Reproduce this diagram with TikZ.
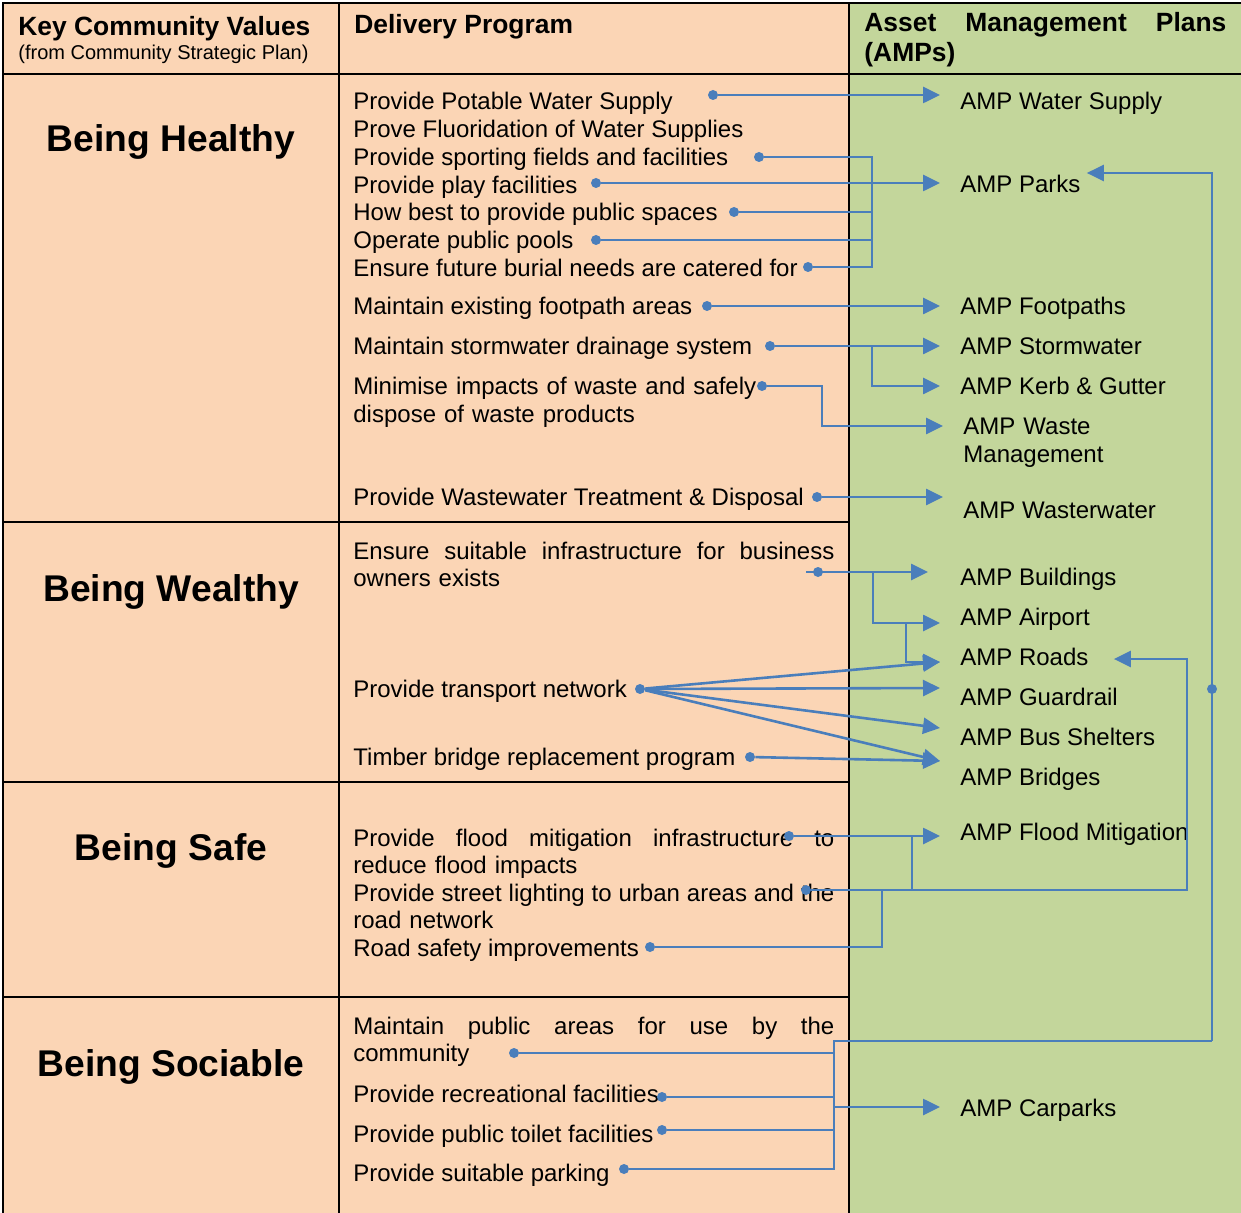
\documentclass[tikz,border=0pt]{standalone}
\usepackage{fontspec}
\setmainfont{Liberation Sans}
\usetikzlibrary{arrows.meta}

\definecolor{planpeach}{RGB}{251,213,181}
\definecolor{plangreen}{RGB}{195,214,155}
\definecolor{linkblue}{RGB}{74,126,187}

\newcommand{\dpfont}{\fontsize{12}{13.85}\selectfont}

\tikzset{
  tblline/.style={line width=1.3pt, black},
  hdr/.style={anchor=base west, inner sep=0pt, font=\bfseries\fontsize{13.2}{15}\selectfont},
  cvalue/.style={anchor=base, inner sep=0pt, font=\bfseries\fontsize{18.6}{22}\selectfont},
  dpitem/.style={anchor=base west, inner sep=0pt, font=\dpfont},
  dpwrap/.style={dpitem, text width=240.5pt, align=left},
  amp/.style={anchor=base west, inner xsep=10pt, inner ysep=0pt, text height=9.6pt, text depth=0.6pt, font=\dpfont},
  ampwrap/.style={anchor=base west, inner xsep=10pt, inner ysep=0pt, text width=110pt, align=left, font=\dpfont},
  srcdot/.style={circle, fill=linkblue, inner sep=0pt, minimum size=5pt},
  link/.style={draw=linkblue, line width=1.3pt},
  feed/.style={link, -{Triangle[length=8.5pt, width=8pt]}},
}

\begin{document}
\begin{tikzpicture}[x=0.5pt, y=-0.5pt]
  \useasboundingbox (0,0) rectangle (1241,1213);

  % table background and rules
  \fill[white] (0,0) rectangle (1241,1213);
  \fill[planpeach] (3,3) rectangle (849,1213);
  \fill[plangreen] (849,3) rectangle (1241,1213);
  \draw[tblline] (1241,3) -- (3,3) -- (3,1213);
  \draw[tblline] (3,74) -- (1241,74);
  \draw[tblline] (339,3) -- (339,1213);
  \draw[tblline] (849,3) -- (849,1213);
  \draw[tblline] (3,522) -- (849,522);
  \draw[tblline] (3,782) -- (849,782);
  \draw[tblline] (3,997) -- (849,997);

  % headings
  \node[hdr] (hKey) at (18,36) {Key Community Values};
  \node[anchor=base west, inner sep=0pt, font=\fontsize{10}{12}\selectfont] (hKeySub) at (18,60) {(from Community Strategic Plan)};
  \node[hdr] (hDel) at (354,34) {Delivery Program};
  \node[hdr, text width=181pt, align=left] (hAmp) at (864,32) {Asset\hfill Management\hfill Plans\\(AMPs)};

  % community values
  \node[cvalue] (vHealthy) at (171,152) {Being Healthy};
  \node[cvalue] (vWealthy) at (171,601) {Being Wealthy};
  \node[cvalue] (vSafe) at (171,860) {Being Safe};
  \node[cvalue] (vSociable) at (171,1076) {Being Sociable};

  % delivery program
  \node[dpitem] (iPotable) at (353,110) {Provide Potable Water Supply};
  \node[dpitem] (iFluor) at (353,137.7) {Prove Fluoridation of Water Supplies};
  \node[dpitem] (iSport) at (353,165.4) {Provide sporting fields and facilities};
  \node[dpitem] (iPlay) at (353,193.1) {Provide play facilities};
  \node[dpitem] (iSpace) at (353,220.8) {How best to provide public spaces};
  \node[dpitem] (iPool) at (353,248.5) {Operate public pools};
  \node[dpitem] (iBurial) at (353,276.2) {Ensure future burial needs are catered for};
  \node[dpitem] (iFoot) at (353,315) {Maintain existing footpath areas};
  \node[dpitem] (iStorm) at (353,355) {Maintain stormwater drainage system};
  \node[dpwrap] (iWaste) at (353,395) {Minimise impacts of waste and safely\\dispose of waste products};
  \node[dpitem] (iWw) at (353,506) {Provide Wastewater Treatment \& Disposal};
  \node[dpwrap] (iBus) at (353,559) {Ensure\hfill suitable\hfill infrastructure\hfill for\hfill business\\owners exists};
  \node[dpitem] (iTrans) at (353,697) {Provide transport network};
  \node[dpitem] (iTimber) at (353,765) {Timber bridge replacement program};
  \node[dpwrap] (iFlood) at (353,846) {Provide\hfill flood\hfill mitigation\hfill infrastructure\hfill to\\reduce flood impacts};
  \node[dpwrap] (iLight) at (353,901) {Provide\hfill street\hfill lighting\hfill to\hfill urban\hfill areas\hfill and\hfill the\\road network};
  \node[dpitem] (iSafety) at (353,956) {Road safety improvements};
  \node[dpwrap] (iPublic) at (353,1034) {Maintain\hfill public\hfill areas\hfill for\hfill use\hfill by\hfill the\\community};
  \node[dpitem] (iRec) at (353,1102) {Provide recreational facilities};
  \node[dpitem] (iToilet) at (353,1142) {Provide public toilet facilities};
  \node[dpitem] (iPark) at (353,1181) {Provide suitable parking};

  % asset management plans
  \node[amp] (aWater) at (940,110) {AMP Water Supply};
  \node[amp] (aParks) at (940,193) {AMP Parks};
  \node[amp] (aFoot) at (940,315) {AMP Footpaths};
  \node[amp] (aStorm) at (940,355) {AMP Stormwater};
  \node[amp] (aKerb) at (940,395) {AMP Kerb \& Gutter};
  \node[ampwrap] (aWaste) at (943,435) {AMP Waste\\Management};
  \node[amp] (aWw) at (943,518) {AMP Wasterwater};
  \node[amp] (aBuild) at (940,585) {AMP Buildings};
  \node[amp] (aAir) at (940,625) {AMP Airport};
  \node[amp] (aRoads) at (940,665) {AMP Roads};
  \node[amp] (aGuard) at (940,705) {AMP Guardrail};
  \node[amp] (aShelter) at (940,745) {AMP Bus Shelters};
  \node[amp] (aBridge) at (940,785) {AMP Bridges};
  \node[amp] (aFlood) at (940,840) {AMP Flood Mitigation};
  \node[amp] (aCar) at (940,1116) {AMP Carparks};

  % source dots
  \node[srcdot] (sWater) at (713,95) {};
  \node[srcdot] (sSport) at (759,157) {};
  \node[srcdot] (sPlay) at (596,183) {};
  \node[srcdot] (sSpace) at (734,212) {};
  \node[srcdot] (sPool) at (596,240) {};
  \node[srcdot] (sBurial) at (808,267) {};
  \node[srcdot] (sFoot) at (707,306) {};
  \node[srcdot] (sStorm) at (770,346) {};
  \node[srcdot] (sWaste) at (762,386) {};
  \node[srcdot] (sWw) at (817,497) {};
  \node[srcdot] (sBus) at (818,572) {};
  \node[srcdot] (sTrans) at (640,689) {};
  \node[srcdot] (sTimber) at (750,757) {};
  \node[srcdot] (sFlood) at (789,836) {};
  \node[srcdot] (sLight) at (806,890) {};
  \node[srcdot] (sSafety) at (650,947) {};
  \node[srcdot] (sPublic) at (514,1053) {};
  \node[srcdot] (sRec) at (662,1097) {};
  \node[srcdot] (sToilet) at (662,1130) {};
  \node[srcdot] (sPark) at (624,1169) {};
  \node[srcdot] (sMid) at (1212,689) {};

  % healthy
  \draw[feed] (sWater) -- (sWater -| aWater.west);
  \coordinate (jPk) at (872,157);
  \draw[link] (sSport) -- (jPk) -- (jPk |- sBurial) -- (sBurial);
  \draw[link] (sSpace) -- (sSpace -| jPk);
  \draw[link] (sPool) -- (sPool -| jPk);
  \draw[feed] (sPlay) -- (sPlay -| aParks.west);
  \draw[feed] (sFoot) -- (sFoot -| aFoot.west);
  \draw[feed] (sStorm) -- (sStorm -| aStorm.west);
  \draw[feed] (sStorm -| jPk) |- (aKerb.west);
  \coordinate (jWs) at (822,426);
  \draw[feed] (sWaste) -| (jWs) -- (jWs -| aWaste.west);
  \draw[feed] (sWw) -- (sWw -| aWw.west);

  % wealthy
  \coordinate (jBs) at (806,572);
  \draw[feed] (jBs) -- ([xshift=-6pt,yshift=2pt]aBuild.west);
  \coordinate (jAp) at (873,572);
  \draw[feed] (jAp) |- ([yshift=-3.5pt]aAir.west);
  \coordinate (jRd) at (906,623);
  \draw[feed] (jRd) |- ([yshift=-3pt]aRoads.west);
  \draw[feed] (sTrans) -- ([yshift=-3pt]aRoads.west);
  \draw[feed] (sTrans) -- ([yshift=4pt]aGuard.west);
  \draw[feed] (sTrans) -- ([yshift=4pt]aShelter.west);
  \draw[feed] (sTrans) -- ([yshift=7.5pt]aBridge.west);
  \draw[feed] (sTimber) -- ([yshift=7.5pt]aBridge.west);

  % safe
  \draw[feed] (sFlood) -- (sFlood -| aFlood.west);
  \coordinate (jFl) at (912,836);
  \draw[link] (jFl) -- (jFl |- sLight);
  \coordinate (jRo) at (1187,890);
  \draw[feed] (sLight) -- (jRo) |- ([xshift=2.5pt,yshift=-1.5pt]aRoads.east);
  \coordinate (jSf) at (882,890);
  \draw[link] (jSf) |- (sSafety);

  % sociable
  \coordinate (jSoc) at (834,1041);
  \coordinate (jPr) at (1212,1041);
  \draw[link] (sPark) -- (sPark -| jSoc) -- (jSoc) -- (jPr);
  \draw[feed] (jPr) |- ([xshift=-7pt,yshift=5.5pt]aParks.east);
  \draw[link] (sPublic) -- (sPublic -| jSoc);
  \draw[link] (sRec) -- (sRec -| jSoc);
  \draw[link] (sToilet) -- (sToilet -| jSoc);
  \draw[feed] (aCar.west -| jSoc) -- (aCar.west);
\end{tikzpicture}
\end{document}
